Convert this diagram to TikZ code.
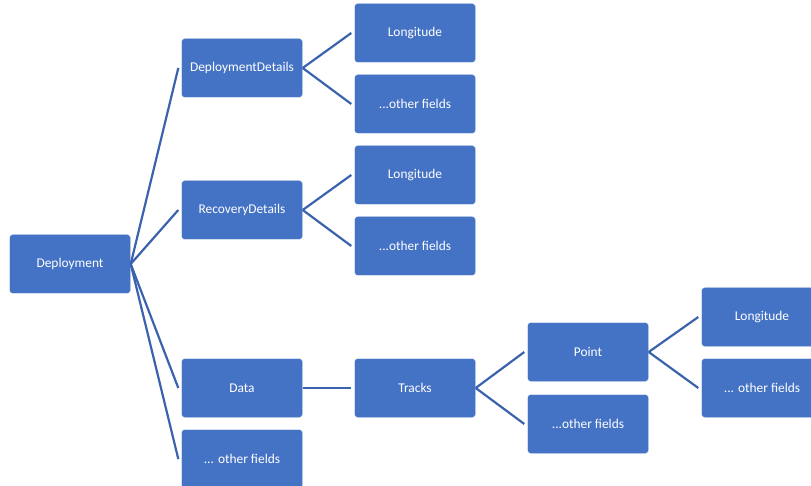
\documentclass[tikz,border=0pt]{standalone}
\usepackage{fontspec}
\setmainfont{Carlito}
\usepackage{tikz}

\definecolor{boxblue}{HTML}{4472C4}
\definecolor{lineblue}{HTML}{3A62AD}

\tikzset{
  field/.style={rectangle, rounded corners=3pt, fill=boxblue, draw=white, thin,
    minimum width=121pt, minimum height=59pt, inner sep=0pt, text=white,
    font=\fontsize{13.4}{15}\selectfont},
  link/.style={draw=lineblue, line width=2.2pt}
}

\begin{document}
\begin{tikzpicture}[x=1pt, y=-1pt]
      \useasboundingbox (0,0) rectangle (811,486);

      % root
      \node[field] (deployment) at (70,264) {Deployment};

      % first level
      \node[field] (depdetails) at (242,68) {DeploymentDetails};
      \node[field] (recdetails) at (242,210) {RecoveryDetails};
      \node[field] (data) at (242,388) {Data};
      \node[field] (other1) at (242,459) {... other fields};

      % deployment details
      \node[field] (lon1) at (415,33) {Longitude};
      \node[field] (other2) at (415,104) {...other fields};

      % recovery details
      \node[field] (lon2) at (415,175) {Longitude};
      \node[field] (other3) at (415,246) {...other fields};

      % data
      \node[field] (tracks) at (415,388) {Tracks};
      \node[field] (point) at (588,352) {Point};
      \node[field] (other4) at (588,424) {...other fields};
      \node[field] (lon3) at (762,317) {Longitude};
      \node[field] (other5) at (762,388) {... other fields};

      \draw[link] (deployment.east) -- ([xshift=-3pt]depdetails.west);
      \draw[link] (deployment.east) -- ([xshift=-3pt]recdetails.west);
      \draw[link] (deployment.east) -- ([xshift=-3pt]data.west);
      \draw[link] (deployment.east) -- ([xshift=-3pt]other1.west);

      \draw[link] (depdetails.east) -- ([xshift=-3pt]lon1.west);
      \draw[link] (depdetails.east) -- ([xshift=-3pt]other2.west);
      \draw[link] (recdetails.east) -- ([xshift=-3pt]lon2.west);
      \draw[link] (recdetails.east) -- ([xshift=-3pt]other3.west);

      \draw[link] (data.east) -- ([xshift=-3pt]tracks.west);
      \draw[link] (tracks.east) -- ([xshift=-3pt]point.west);
      \draw[link] (tracks.east) -- ([xshift=-3pt]other4.west);
      \draw[link] (point.east) -- ([xshift=-3pt]lon3.west);
      \draw[link] (point.east) -- ([xshift=-3pt]other5.west);
\end{tikzpicture}
\end{document}
